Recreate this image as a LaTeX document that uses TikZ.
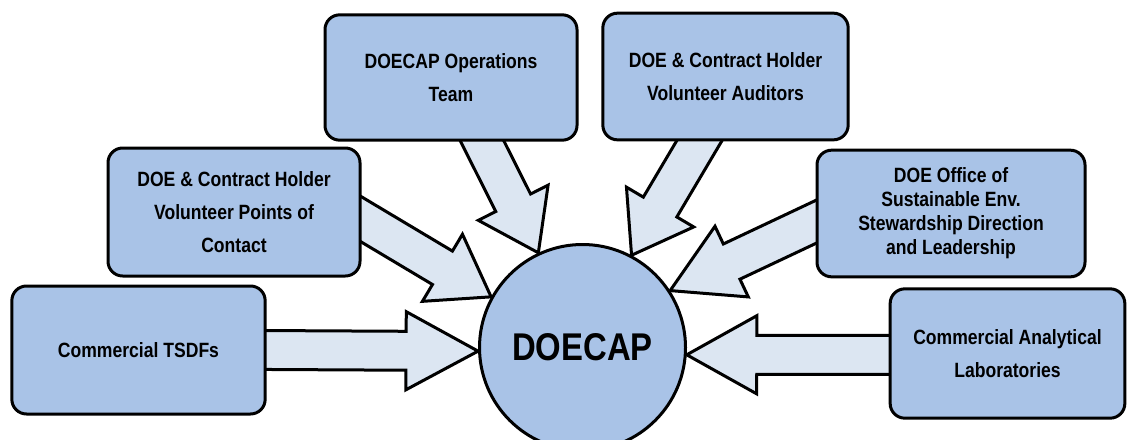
\documentclass[tikz,border=0pt]{standalone}
\usepackage{fontspec}
\setmainfont{Liberation Sans}[FakeStretch=0.85]
\usetikzlibrary{calc,backgrounds}
\definecolor{boxblue}{HTML}{A9C3E7}
\definecolor{arrowblue}{HTML}{DCE6F2}

\begin{document}
\begin{tikzpicture}[
  x=0.75pt, y=-0.75pt,
  party/.style={draw=black, line width=2.25pt, fill=boxblue, rounded corners=11pt,
    align=center, inner sep=3pt, font=\fontsize{15.5}{24.5}\selectfont\bfseries},
  feed/.style={draw=black, line width=2.25pt, fill=arrowblue, line join=miter}
]

  \useasboundingbox (0,0) rectangle (1127,439);

  % Central program
  \node[circle, draw=black, line width=2.25pt, fill=boxblue, minimum size=154.5pt, inner sep=0pt,
    font=\fontsize{29}{30}\selectfont\bfseries] (hub) at (582.5,347.5) {DOECAP};

  % Participants, left side
  \node[party, minimum width=190pt, minimum height=96pt] (tsdf) at (138.5,350) {Commercial TSDFs};
  \node[party, minimum width=189pt, minimum height=96pt] (poc) at (234,212)
    {DOE \& Contract Holder\\Volunteer Points of\\Contact};
  \node[party, minimum width=189pt, minimum height=94pt] (ops) at (451,77.5)
    {DOECAP Operations\\Team};

  % Participants, right side
  \node[party, minimum width=184pt, minimum height=95pt] (aud) at (725.5,76.5)
    {DOE \& Contract Holder\\Volunteer Auditors};
  \node[party, minimum width=201pt, minimum height=95pt, font=\fontsize{15.5}{18}\selectfont\bfseries] (office) at (951,213.5)
    {DOE Office of\\Sustainable Env.\\Stewardship Direction\\and Leadership};
  \node[party, minimum width=176pt, minimum height=97pt] (labs) at (1007.5,353.5)
    {Commercial Analytical\\Laboratories};

  % Arrow tails on the box edges
  \coordinate (tsdfout) at (tsdf.east);
  \coordinate (labsout) at ([yshift=-1pt]labs.west);
  \coordinate (pocout) at ([yshift=-5.6pt]poc.east);
  \coordinate (opsout) at ([xshift=23.6pt]ops.south);
  \coordinate (audout) at ([xshift=-19.9pt]aud.south);
  \coordinate (officeout) at ([yshift=-6.4pt]office.west);

  % Block arrows into the hub
  \begin{scope}[on background layer]
    \foreach \src/\dst/\hl in {tsdfout/hub.182/54pt, labsout/hub.-4/52.5pt, pocout/hub.151/42.5pt,
                               opsout/hub.115/42pt, audout/hub.62/42pt, officeout/hub.33/51pt} {
      \coordinate (s) at ($(\src)!-18pt!(\dst)$);
      \coordinate (hb) at ($(\dst)!\hl!(\src)$);
      \draw[feed] ($(s)!14.6pt!90:(\dst)$) -- ($(hb)!14.6pt!90:(\dst)$) -- ($(hb)!29.3pt!90:(\dst)$)
        -- (\dst) -- ($(hb)!29.3pt!-90:(\dst)$) -- ($(hb)!14.6pt!-90:(\dst)$) -- ($(s)!14.6pt!-90:(\dst)$) -- cycle;
    }
  \end{scope}

\end{tikzpicture}
\end{document}
